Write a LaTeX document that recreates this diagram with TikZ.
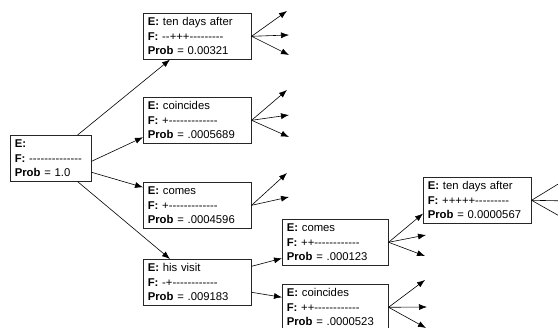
\documentclass[tikz,border=0pt]{standalone}
\usepackage{fontspec}
\setmainfont{Liberation Sans}[Ligatures=TeXOff]
\usetikzlibrary{arrows.meta}
\begin{document}
\begin{tikzpicture}[x=1pt,y=-1pt,
  hyp/.style={draw=black!85, line width=0.6pt, anchor=north west, align=left,
    font=\fontsize{11.3}{14.5}\selectfont, inner xsep=4.5pt, inner ysep=2pt,
    text width=99pt, minimum height=46pt},
  rootbox/.style={hyp, text width=72pt},
  conn/.style={line width=0.6pt, -{Latex[length=8pt,width=6pt]}}]
\useasboundingbox (0,0) rectangle (558,328);
\clip (0,0) rectangle (558,328);
\node[rootbox] (root) at (10,135) {\textbf{E:}\\ \textbf{F:} --------------\\ \textbf{Prob} = 1.0};
\node[hyp] (b1) at (143,13) {\textbf{E:} ten days after\\ \textbf{F:} --+++---------\\ \textbf{Prob} = 0.00321};
\node[hyp] (b2) at (143,97) {\textbf{E:} coincides\\ \textbf{F:} +-------------\\ \textbf{Prob} = .0005689};
\node[hyp] (b3) at (143,182) {\textbf{E:} comes\\ \textbf{F:} +-------------\\ \textbf{Prob} = .0004596};
\node[hyp] (b4) at (143,259) {\textbf{E:} his visit\\ \textbf{F:} -+------------\\ \textbf{Prob} = .009183};
\node[hyp, text width=97pt] (c1) at (282,219) {\textbf{E:} comes\\ \textbf{F:} ++------------\\ \textbf{Prob} = .000123};
\node[hyp, text width=97pt] (c2) at (282,284) {\textbf{E:} coincides\\ \textbf{F:} ++------------\\ \textbf{Prob} = .0000523};
\node[hyp] (d1) at (423,177) {\textbf{E:} ten days after\\ \textbf{F:} +++++---------\\ \textbf{Prob} = 0.0000567};
% free ends
\coordinate (e11) at (287,11); \coordinate (e12) at (289,35); \coordinate (e13) at (289,55);
\coordinate (e21) at (287,90); \coordinate (e22) at (289,115); \coordinate (e23) at (289,137);
\coordinate (e31) at (287,173); \coordinate (e32) at (289,197);
\coordinate (f12) at (426,235); \coordinate (f13) at (425,256);
\coordinate (f21) at (425,280); \coordinate (f22) at (427,307); \coordinate (f23) at (426,328);
\coordinate (g1) at (568,178); \coordinate (g2) at (570,201); \coordinate (g3) at (570,222);
% root connectors
\draw[conn] ([xshift=-14pt]root.north east) -- ([xshift=27pt]b1.south west);
\draw[conn] ([yshift=-3pt]root.east) -- ([yshift=-17pt]b2.west);
\draw[conn] ([yshift=-14pt]root.east) -- ([yshift=18pt]b3.west);
\draw[conn] ([xshift=-14pt]root.south east) -- ([xshift=27pt]b4.north west);
% box fans
\foreach \t in {e11,e12,e13} \draw[conn] (b1.east) -- (\t);
\foreach \t in {e21,e22,e23} \draw[conn] (b2.east) -- (\t);
\foreach \t in {e31,e32} \draw[conn] (b3.east) -- (\t);
\draw[conn] ([yshift=16pt]b4.east) -- ([yshift=-16pt]c1.west);
\draw[conn] ([yshift=-10pt]b4.east) -- ([yshift=10pt]c2.west);
\draw[conn] (c1.east) -- ([yshift=10pt]d1.south west);
\foreach \t in {f12,f13} \draw[conn] (c1.east) -- (\t);
\foreach \t in {f21,f22,f23} \draw[conn] (c2.east) -- (\t);
\foreach \t in {g1,g2,g3} \draw[conn] (d1.east) -- (\t);
\end{tikzpicture}
\end{document}
